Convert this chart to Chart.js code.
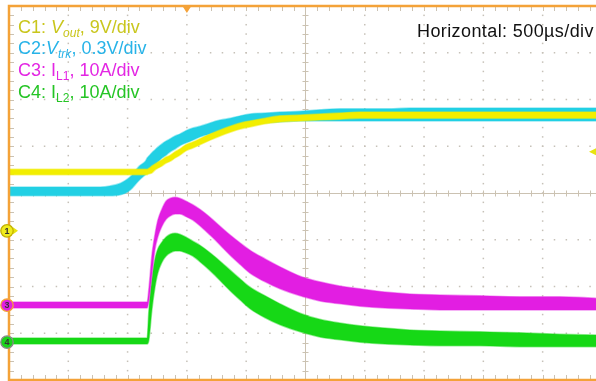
<!DOCTYPE html>
<html>
<head>
<meta charset="utf-8">
<script src="https://cdn.jsdelivr.net/npm/chart.js@4.4.1/dist/chart.umd.min.js"></script>
<style>
  html, body { margin: 0; padding: 0; background: #fff; }
  #wrap { position: relative; width: 596px; height: 381px; overflow: hidden;
          font-family: "Liberation Sans", Arial, sans-serif; }
  #scope { position: absolute; left: 0; top: 0; }
  .lbl { position: absolute; left: 18px; font-size: 18px; line-height: 18px; white-space: nowrap; }
  .lbl i { font-style: italic; }
  .lbl sub { font-size: 12px; vertical-align: baseline; position: relative; top: 4px; }
  #c1 { top: 17.5px; color: #c9c61c; }
  #c2 { top: 39px; color: #27b3e8; }
  #c3 { top: 60.5px; color: #e326e3; }
  #c4 { top: 82.5px; color: #25c425; }
  #hz { position: absolute; left: 417px; top: 22px; font-size: 18px; line-height: 18px;
        color: #111; white-space: nowrap; letter-spacing: 0.4px; }
</style>
</head>
<body>
<div id="wrap">
  <canvas id="scope" width="596" height="381"></canvas>
  <div class="lbl" id="c1">C1: <i>V<sub>out</sub></i>, 9V/div</div>
  <div class="lbl" id="c2">C2:<i>V<sub>trk</sub></i>, 0.3V/div</div>
  <div class="lbl" id="c3">C3: I<sub>L1</sub>, 10A/div</div>
  <div class="lbl" id="c4">C4: I<sub>L2</sub>, 10A/div</div>
  <div id="hz">Horizontal: 500µs/div</div>
</div>
<script>
// Sample instants along the record, in microseconds (500 µs per division)
const timeUs = [0, 770, 850, 940, 1020, 1100, 1150, 1165, 1180, 1205, 1230, 1255, 1290, 1325,
  1360, 1400, 1440, 1490, 1550, 1610, 1695, 1780, 1865, 1950, 2030, 2160, 2285, 2455, 2620,
  2790, 2960, 3170, 3380, 3635, 3970, 4310, 4645, 4950];

// Trace envelopes (top and bottom of the noise band), in screen divisions from the bottom edge
const voutHi = [4.51, 4.51, 4.51, 4.51, 4.51, 4.51, 4.51, 4.51, 4.53, 4.58, 4.62, 4.66, 4.71, 4.77,
  4.81, 4.88, 4.94, 5.03, 5.09, 5.16, 5.26, 5.35, 5.43, 5.50, 5.54, 5.60, 5.65, 5.67, 5.69, 5.71,
  5.73, 5.73, 5.73, 5.73, 5.73, 5.73, 5.73, 5.73];
const voutLo = [4.39, 4.39, 4.39, 4.39, 4.39, 4.39, 4.39, 4.39, 4.41, 4.43, 4.49, 4.53, 4.58, 4.64,
  4.68, 4.75, 4.81, 4.90, 4.96, 5.03, 5.13, 5.22, 5.30, 5.37, 5.41, 5.48, 5.52, 5.54, 5.56, 5.58,
  5.60, 5.60, 5.60, 5.60, 5.60, 5.60, 5.60, 5.60];

const vtrkHi = [4.13, 4.13, 4.15, 4.21, 4.34, 4.58, 4.68, 4.75, 4.79, 4.86, 4.92, 4.98, 5.05, 5.11,
  5.16, 5.22, 5.26, 5.33, 5.39, 5.43, 5.50, 5.56, 5.60, 5.65, 5.69, 5.71, 5.73, 5.75, 5.78, 5.80,
  5.80, 5.80, 5.82, 5.82, 5.82, 5.82, 5.82, 5.82];
const vtrkLo = [3.94, 3.94, 3.94, 3.96, 4.06, 4.28, 4.39, 4.43, 4.47, 4.53, 4.60, 4.66, 4.75, 4.81,
  4.88, 4.94, 5.01, 5.07, 5.13, 5.20, 5.26, 5.33, 5.39, 5.43, 5.45, 5.50, 5.52, 5.54, 5.54, 5.54,
  5.54, 5.54, 5.54, 5.54, 5.54, 5.54, 5.54, 5.54];

const il1Hi = [1.67, 1.67, 1.67, 1.67, 1.67, 1.67, 1.67, 1.67, 1.97, 2.67, 3.10, 3.42, 3.66, 3.83,
  3.89, 3.91, 3.89, 3.83, 3.75, 3.65, 3.48, 3.29, 3.10, 2.93, 2.78, 2.59, 2.42, 2.22, 2.10, 2.01,
  1.95, 1.88, 1.84, 1.82, 1.80, 1.78, 1.78, 1.75];
const il1Lo = [1.54, 1.54, 1.54, 1.54, 1.54, 1.54, 1.54, 1.54, 1.71, 2.25, 2.78, 3.06, 3.29, 3.44,
  3.51, 3.55, 3.55, 3.50, 3.42, 3.30, 3.10, 2.89, 2.67, 2.47, 2.29, 2.10, 1.95, 1.80, 1.69, 1.63,
  1.58, 1.54, 1.52, 1.50, 1.50, 1.50, 1.50, 1.50];

const il2Hi = [0.90, 0.90, 0.90, 0.90, 0.90, 0.90, 0.90, 0.90, 1.50, 2.14, 2.57, 2.80, 2.95, 3.06,
  3.12, 3.14, 3.12, 3.06, 2.97, 2.88, 2.72, 2.54, 2.35, 2.16, 1.99, 1.80, 1.63, 1.43, 1.30, 1.22,
  1.16, 1.11, 1.07, 1.05, 1.03, 1.01, 0.98, 0.96];
const il2Lo = [0.77, 0.77, 0.77, 0.77, 0.77, 0.77, 0.77, 0.77, 0.86, 1.50, 1.97, 2.29, 2.52, 2.65,
  2.72, 2.76, 2.76, 2.72, 2.65, 2.53, 2.34, 2.13, 1.91, 1.71, 1.53, 1.33, 1.18, 1.03, 0.92, 0.86,
  0.81, 0.77, 0.75, 0.73, 0.73, 0.71, 0.71, 0.71];

// Channel ground references shown on the left edge, in divisions
const refLabels = ['1', '3', '4'];
const refLevels = [3.19, 1.60, 0.81];
// Trigger point (µs) and trigger level (divisions)
const triggerTime = 1500;
const triggerLevel = 4.88;

const COL = { vout: '#f2ee00', vtrk: '#22d0e4', il1: '#e21ee2', il2: '#16d816', frame: '#f4a238' };

function pts(vals) { return vals.map((v, i) => ({ x: timeUs[i], y: v })); }
function band(hi, lo, color, soft) {
  const common = { pointRadius: 0, borderWidth: 1.5, borderColor: soft,
                   cubicInterpolationMode: 'monotone' };
  return [
    Object.assign({ data: pts(hi), fill: false }, common),
    Object.assign({ data: pts(lo), fill: '-1', backgroundColor: color }, common)
  ];
}

const graticule = {
  id: 'graticule',
  beforeDatasetsDraw(chart) {
    const { ctx, chartArea: a, scales: { x, y } } = chart;
    ctx.save();
    // dotted major lines, one dot per minor step
    ctx.fillStyle = '#c6c1b8';
    for (let i = 1; i < 10; i++) {
      if (i === 5) continue;
      const px = x.getPixelForValue(i * 500);
      for (let j = 1; j < 40; j++) {
        const py = y.getPixelForValue(j * 0.2);
        ctx.fillRect(px - 0.75, py - 0.75, 1.5, 1.5);
      }
    }
    for (let j = 1; j < 8; j++) {
      if (j === 4) continue;
      const py = y.getPixelForValue(j);
      for (let i = 1; i < 50; i++) {
        const px = x.getPixelForValue(i * 100);
        if (px > a.right) break;
        ctx.fillRect(px - 0.75, py - 0.75, 1.5, 1.5);
      }
    }
    // center cross with minor ticks, plus ticks along the frame
    ctx.strokeStyle = '#cbc2b2';
    ctx.lineWidth = 1;
    const cx = Math.round(x.getPixelForValue(2500)) + 0.5;
    const cy = Math.round(y.getPixelForValue(4)) + 0.5;
    ctx.beginPath();
    ctx.moveTo(a.left, cy); ctx.lineTo(a.right, cy);
    ctx.moveTo(cx, a.top); ctx.lineTo(cx, a.bottom);
    for (let i = 1; i < 50; i++) {
      const px = Math.round(x.getPixelForValue(i * 100)) + 0.5;
      if (px > a.right) break;
      ctx.moveTo(px, cy - 3); ctx.lineTo(px, cy + 3);
      ctx.moveTo(px, a.top); ctx.lineTo(px, a.top + 5);
      ctx.moveTo(px, a.bottom); ctx.lineTo(px, a.bottom - 5);
    }
    for (let j = 1; j < 40; j++) {
      const py = Math.round(y.getPixelForValue(j * 0.2)) + 0.5;
      ctx.moveTo(cx - 3, py); ctx.lineTo(cx + 3, py);
      ctx.moveTo(a.left, py); ctx.lineTo(a.left + 5, py);
    }
    ctx.stroke();
    ctx.restore();
  },
  afterDatasetsDraw(chart) {
    const { ctx, chartArea: a, scales: { x, y } } = chart;
    ctx.save();
    // orange frame
    ctx.strokeStyle = COL.frame;
    ctx.lineWidth = 2.5;
    ctx.beginPath();
    ctx.moveTo(a.right + 2, a.top); ctx.lineTo(a.left, a.top);
    ctx.lineTo(a.left, a.bottom); ctx.lineTo(a.right + 2, a.bottom);
    ctx.stroke();
    // trigger position marker
    const tx = x.getPixelForValue(triggerTime);
    ctx.fillStyle = COL.frame;
    ctx.beginPath();
    ctx.moveTo(tx - 4.5, a.top); ctx.lineTo(tx + 4.5, a.top); ctx.lineTo(tx, a.top + 7);
    ctx.closePath(); ctx.fill();
    // trigger level marker on the right
    const ty = y.getPixelForValue(triggerLevel);
    ctx.fillStyle = '#e8e410';
    ctx.beginPath();
    ctx.moveTo(a.right - 7, ty); ctx.lineTo(a.right, ty - 3.5); ctx.lineTo(a.right, ty + 3.5);
    ctx.closePath(); ctx.fill();
    // channel reference markers
    const styles = [
      { fill: '#f0ec1c', ring: '#c2b000', arrow: '#e8e410' },
      { fill: '#e21ee2', ring: COL.frame },
      { fill: '#1ad41a', ring: '#8a8a8a' }
    ];
    refLevels.forEach((lv, k) => {
      const py = y.getPixelForValue(lv);
      const s = styles[k];
      const cxm = a.left - 2;
      if (s.arrow) {
        ctx.fillStyle = s.arrow;
        ctx.beginPath();
        ctx.moveTo(cxm + 6, py - 3.5); ctx.lineTo(cxm + 11, py); ctx.lineTo(cxm + 6, py + 3.5);
        ctx.closePath(); ctx.fill();
      }
      ctx.beginPath();
      ctx.arc(cxm, py, 6.2, 0, Math.PI * 2);
      ctx.fillStyle = s.fill; ctx.fill();
      ctx.lineWidth = 1.3; ctx.strokeStyle = s.ring; ctx.stroke();
      ctx.fillStyle = '#333';
      ctx.font = 'bold 9px "Liberation Sans", Arial, sans-serif';
      ctx.textAlign = 'center'; ctx.textBaseline = 'middle';
      ctx.fillText(refLabels[k], cxm, py + 0.5);
    });
    ctx.restore();
  }
};

new Chart(document.getElementById('scope'), {
  type: 'line',
  data: {
    datasets: [
      ...band(voutHi, voutLo, COL.vout, 'rgba(242,238,0,0.5)'),
      ...band(vtrkHi, vtrkLo, COL.vtrk, 'rgba(34,208,228,0.45)'),
      ...band(il1Hi, il1Lo, COL.il1, 'rgba(226,30,226,0.45)'),
      ...band(il2Hi, il2Lo, COL.il2, 'rgba(22,216,22,0.45)')
    ]
  },
  options: {
    responsive: false,
    devicePixelRatio: 1,
    animation: false,
    layout: { padding: { left: 9, top: 6, right: 0, bottom: 1 } },
    plugins: { legend: { display: false }, tooltip: { enabled: false } },
    scales: {
      x: { type: 'linear', min: 0, max: 4950, display: false },
      y: { type: 'linear', min: 0, max: 8, display: false }
    }
  },
  plugins: [graticule]
});
</script>
</body>
</html>
